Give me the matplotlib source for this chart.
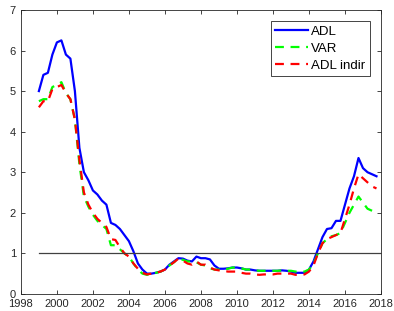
import matplotlib
matplotlib.use("Agg")
import matplotlib.pyplot as plt
import numpy as np

plt.rcParams['font.family'] = ['Liberation Sans', 'DejaVu Sans']

# quarterly dates 1999Q1 .. 2017Q4
aar = 1999 + np.arange(76) * 0.25

adl = [5.0, 5.4, 5.45, 5.9, 6.2, 6.25, 5.9, 5.8,
       5.0, 3.6, 3.0, 2.8, 2.55, 2.45, 2.3, 2.2,
       1.75, 1.7, 1.6, 1.45, 1.3, 1.05, 0.75, 0.6,
       0.5, 0.5, 0.52, 0.55, 0.6, 0.72, 0.8, 0.88,
       0.87, 0.82, 0.8, 0.92, 0.88, 0.88, 0.85, 0.7,
       0.62, 0.62, 0.63, 0.65, 0.65, 0.63, 0.6, 0.6,
       0.58, 0.57, 0.57, 0.57, 0.57, 0.57, 0.58, 0.57,
       0.55, 0.52, 0.52, 0.52, 0.6, 0.8, 1.1, 1.4,
       1.6, 1.62, 1.8, 1.8, 2.2, 2.6, 2.9, 3.35,
       3.1, 3.0, 2.95, 2.9]

var = [4.75, 4.8, 4.8, 5.1, 5.15, 5.22, 4.95, 4.8,
       4.3, 3.2, 2.4, 2.15, 1.95, 1.8, 1.7, 1.6,
       1.2, 1.2, 1.1, 1.0, 0.92, 0.75, 0.6, 0.5,
       0.47, 0.5, 0.52, 0.55, 0.6, 0.7, 0.78, 0.87,
       0.84, 0.8, 0.8, 0.78, 0.72, 0.7, 0.63, 0.6,
       0.6, 0.6, 0.62, 0.65, 0.65, 0.63, 0.6, 0.6,
       0.58, 0.57, 0.57, 0.57, 0.57, 0.57, 0.58, 0.57,
       0.57, 0.55, 0.55, 0.55, 0.6, 0.75, 1.0, 1.25,
       1.35, 1.42, 1.45, 1.5, 1.75, 2.0, 2.2, 2.4,
       2.25, 2.1, 2.05, 2.0]

adl_indir = [4.6, 4.75, 4.75, 5.05, 5.1, 5.15, 4.95, 4.8,
             4.3, 3.3, 2.5, 2.2, 2.0, 1.85, 1.75, 1.65,
             1.35, 1.33, 1.15, 1.0, 0.92, 0.75, 0.62, 0.52,
             0.48, 0.5, 0.52, 0.55, 0.6, 0.7, 0.78, 0.87,
             0.82, 0.75, 0.72, 0.8, 0.72, 0.72, 0.65, 0.6,
             0.58, 0.57, 0.55, 0.55, 0.55, 0.52, 0.5, 0.5,
             0.48, 0.47, 0.48, 0.48, 0.48, 0.5, 0.5, 0.5,
             0.5, 0.47, 0.47, 0.48, 0.55, 0.7, 1.0, 1.25,
             1.35, 1.4, 1.45, 1.5, 1.85, 2.2, 2.6, 2.95,
             2.85, 2.75, 2.65, 2.6]

fig = plt.figure(figsize=(3.94, 3.11), dpi=100)
ax = fig.add_axes([0.053, 0.055, 0.914, 0.913])

ax.plot(aar, adl, color='#0000ff', lw=1.6, label='ADL')
ax.plot(aar, var, color='#00ff00', lw=1.6, ls=(0, (4, 3)), label='VAR')
ax.plot(aar, adl_indir, color='#ff0000', lw=1.6, ls=(0, (4, 3)), label='ADL indir')
ax.plot([1999, 2018], [1, 1], color='#404040', lw=0.9)

ax.set_xlim(1998, 2018)
ax.set_ylim(0, 7)
ax.set_xticks(np.arange(1998, 2019, 2))
ax.set_yticks(np.arange(0, 8, 1))
ax.tick_params(direction='in', top=True, right=True, labelsize=8,
               colors='#262626', length=3, width=0.6)
for s in ax.spines.values():
    s.set_color('#262626')
    s.set_linewidth(0.6)

leg = ax.legend(loc='upper right', fontsize=9.5, fancybox=False, framealpha=1,
                edgecolor='#262626', borderaxespad=0.85, handlelength=2.5,
                labelspacing=0.35, handletextpad=0.2, borderpad=0.35)
leg.get_frame().set_linewidth(0.6)
for t in leg.get_texts():
    t.set_color('#000000')

fig.savefig('out.png', dpi=100)
